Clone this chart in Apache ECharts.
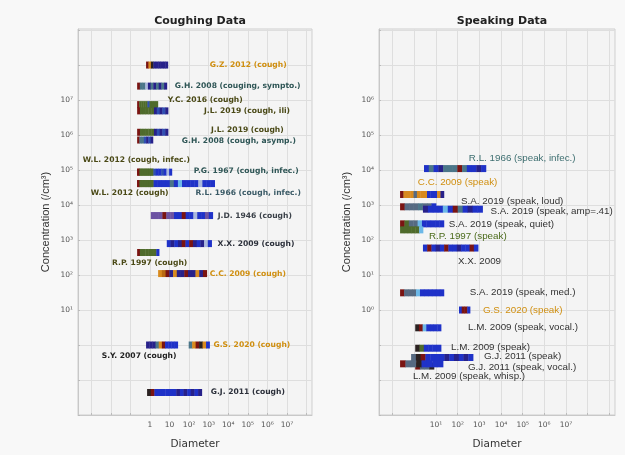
<!DOCTYPE html>
<html>
<head>
<meta charset="utf-8">
<script src="https://cdn.jsdelivr.net/npm/echarts@6/dist/echarts.min.js"></script>
<style>
html,body{margin:0;padding:0;background:#f8f8f8}
#main{width:625px;height:455px}
</style>
</head>
<body>
<div id="main"></div>
<script>
// coughing studies
var coughNames=['G.Z. 2012 (cough)','G.H. 2008 (couging, sympto.)','Y.C. 2016 (cough)','J.L. 2019 (cough, ili)',
  'J.L. 2019 (cough)','G.H. 2008 (cough, asymp.)','P.G. 1967 (cough, infec.)','W.L. 2012 (cough, infec.)',
  'R.L. 1966 (cough, infec.)','W.L. 2012 (cough)','J.D. 1946 (cough)','X.X. 2009 (cough)','R.P. 1997 (cough)',
  'C.C. 2009 (cough)','S.Y. 2007 (cough)','G.S. 2020 (cough)','G.J. 2011 (cough)'];
var coughConc=[1e8,2.5e7,7.4e6,4.9e6,1.2e6,7.2e5,8.7e4,8.7e4,4.1e4,4.1e4,5.0e3,790,440,110,1.0,1.0,0.044];
var coughDmin=[0.63,0.22,0.22,0.22,0.22,0.22,0.22,0.22,0.22,0.22,1.1,7.2,0.22,2.6,0.63,95,0.71];
var coughDmax=[8.1,7.2,2.5,8.3,8.3,1.4,13,1.4,2000,1.4,1600,1400,2.9,790,26,1100,440];

// speaking studies
var speakNames=['R.L. 1966 (speak, infec.)','C.C. 2009 (speak)','S.A. 2019 (speak, loud)','S.A. 2019 (speak, amp=.41)',
  'S.A. 2019 (speak, quiet)','R.P. 1997 (speak)','X.X. 2009','S.A. 2019 (speak, med.)','G.S. 2020 (speak)',
  'L.M. 2009 (speak, vocal.)','L.M. 2009 (speak)','L.M. 2009 (speak, whisp.)','G.J. 2011 (speak)','G.J. 2011 (speak, vocal.)'];
var speakConc=[1.1e4,2.0e3,890,760,290,195,59,3.1,1.0,0.31,0.081,0.025,0.044,0.029];
var speakDmin=[2.8,0.22,0.22,2.5,0.22,0.22,2.5,0.22,115,1.1,1.1,1.1,0.71,0.22];
var speakDmax=[2000,23,10,1400,23,2.5,870,23,370,17,17,8,510,21];

// tick labels (exponent -> text)
var coughXExp=[0,1,2,3,4,5,6,7], coughXLabels=['1','10','10²','10³','10⁴','10⁵','10⁶','10⁷'];
var coughYExp=[1,2,3,4,5,6,7], coughYLabels=['10¹','10²','10³','10⁴','10⁵','10⁶','10⁷'];
var speakXExp=[1,2,3,4,5,6,7], speakXLabels=['10¹','10²','10³','10⁴','10⁵','10⁶','10⁷'];
var speakYExp=[0,1,2,3,4,5,6], speakYLabels=['10⁰','10¹','10²','10³','10⁴','10⁵','10⁶'];

// styling: stripe patterns, label offsets (px from bar end), label colours
var palette={r:'#7a1412',d:'#2b2222',o:'#d88a1e',O:'#b96a12',g:'#4f6b2c',t:'#4b7689',T:'#566a82',
  N:'#27218a',B:'#1f32c8',b:'#2f4fb2',P:'#6c52a2',c:'#6cb8e8',w:'#aab8dc'};
var coughStripes=['rodNNNNNN','rttwNtNtNtN','rggggbgggg','rgggggNbNbN','rgggggNbNbN','rttbNbN','rgggggbBBbBwB',
  'rgggggg','rgggBBBBtBcBBBBwBBB','rgggggg','PPPrPPBBrBBwBBPB','BNBNrBrNBNwB','rggggggB','oOrNoNNrNNoNr',
  'NNNtorBBBB','tordoB','drBBBBBBNBNBNBN'];
var speakStripes=['BtBNtttrtBBNB','roooToooBBBoN','rTTTtTTB','NBBBcBrtBNBB','rgTTcBBBBB','gggggc',
  'BrBNBrBBNBBrB','rTTTcBBBBBB','BrrB','drcBBBB','dgBBBB','rTTd','TdrBBBBNBNBNB','rTTdBBBB'];
var coughOffsets=[[42,0],[8,0],[10,-5],[36,0],[43,-2],[29,1],[22,-1],[-70,-12],[-19,9],[-62,9],[5,0],[6,0],
  [-47,11],[3,0],[-76,11],[4,0],[9,0]];
var speakOffsets=[[-17,-10],[-26,-12],[25,-6],[8,2],[5,0],[6,6],[-20,13],[26,-1],[13,0],[27,-1],[10,-1],
  [-21,10],[11,-1],[25,3]];
var OR='#d08f10', TL='#2f5656', OL='#4a4916', DK='#2b2f3a';
var coughColors=[OR,TL,OL,OL,OL,TL,TL,OL,'#3a5a66',OL,'#3a4048',DK,OL,OR,'#222222',OR,DK];
var speakColors=['#3d6e70',OR,'#333333','#333333','#333333','#4a6a1a','#333333','#333333',OR,'#333333',
  '#333333','#333333','#333333','#333333'];

function toData(dmin,dmax,conc){
  var out=[];
  for(var i=0;i<conc.length;i++){
    out.push([Math.log10(dmin[i]),Math.log10(dmax[i]),Math.log10(conc[i])]);
  }
  return out;
}

function makeRender(names,stripes,offsets,colors,font){
  return function(params,api){
    var i=params.dataIndex;
    var y=api.value(2);
    var p0=api.coord([api.value(0),y]);
    var p1=api.coord([api.value(1),y]);
    var h=7;
    var pat=stripes[i];
    var w=(p1[0]-p0[0])/pat.length;
    var kids=[];
    for(var k=0;k<pat.length;k++){
      kids.push({type:'rect',shape:{x:p0[0]+k*w,y:p0[1]-h/2,width:w+0.4,height:h},
        style:{fill:palette[pat.charAt(k)]}});
    }
    kids.push({type:'text',x:p1[0]+offsets[i][0],y:p1[1]+offsets[i][1],
      style:{text:names[i],fill:colors[i],font:font,align:'left',verticalAlign:'middle'}});
    return {type:'group',children:kids};
  };
}

function ints(a,b){var r=[];for(var v=a;v<=b;v++)r.push(v);return r;}

function axis(idx,min,max,exps,labels,name,isX){
  var ax={
    type:'value',gridIndex:idx,min:min,max:max,
    name:name,nameLocation:'middle',
    nameTextStyle:isX?{fontFamily:'DejaVu Sans',fontSize:10.5,color:'#333'}
                     :{fontFamily:'Liberation Sans',fontSize:11,color:'#333',padding:[0,0,0,0]},
    nameGap:isX?24:27,
    axisLine:{show:true,onZero:false,lineStyle:{color:'#c8c8c8',width:1}},
    axisTick:{show:true,length:2,inside:true,lineStyle:{color:'#bbb'},customValues:ints(Math.ceil(min),Math.floor(max))},
    axisLabel:{customValues:exps,margin:isX?6:5,fontFamily:'DejaVu Sans',fontSize:7.5,color:'#555',
      formatter:function(v){var j=exps.indexOf(Math.round(v));return j<0?'':labels[j];}},
    splitLine:{show:true,lineStyle:{color:'#dedede',width:1}}
  };
  if(!isX){ax.nameRotate=90;}
  return ax;
}

var chart=echarts.init(document.getElementById('main'));
chart.setOption({
  backgroundColor:'#f8f8f8',
  animation:false,
  title:[
    {text:'Coughing Data',left:195,top:11,textAlign:'center',
      textStyle:{fontFamily:'DejaVu Sans',fontWeight:'bold',fontSize:11,color:'#222'}},
    {text:'Speaking Data',left:497,top:11,textAlign:'center',
      textStyle:{fontFamily:'DejaVu Sans',fontWeight:'bold',fontSize:11,color:'#222'}}
  ],
  grid:[
    {left:78,top:29,width:234,height:388,show:true,backgroundColor:'#f4f4f4',borderColor:'#cfcfcf',borderWidth:1},
    {left:379,top:29,width:236,height:388,show:true,backgroundColor:'#f4f4f4',borderColor:'#cfcfcf',borderWidth:1}
  ],
  xAxis:[
    axis(0,-3.68,8.28,coughXExp,coughXLabels,'Diameter',true),
    axis(1,-1.63,9.26,speakXExp,speakXLabels,'Diameter',true)
  ],
  yAxis:[
    axis(0,-2,9.03,coughYExp,coughYLabels,'Concentration (/cm³)',false),
    axis(1,-3,8.03,speakYExp,speakYLabels,'Concentration (/cm³)',false)
  ],
  series:[
    {type:'custom',xAxisIndex:0,yAxisIndex:0,clip:false,encode:{x:[0,1],y:2},
      data:toData(coughDmin,coughDmax,coughConc),
      renderItem:makeRender(coughNames,coughStripes,coughOffsets,coughColors,'bold 7.6px "DejaVu Sans"')},
    {type:'custom',xAxisIndex:1,yAxisIndex:1,clip:false,encode:{x:[0,1],y:2},
      data:toData(speakDmin,speakDmax,speakConc),
      renderItem:makeRender(speakNames,speakStripes,speakOffsets,speakColors,'9.8px "Liberation Sans"')}
  ]
});
</script>
</body>
</html>
